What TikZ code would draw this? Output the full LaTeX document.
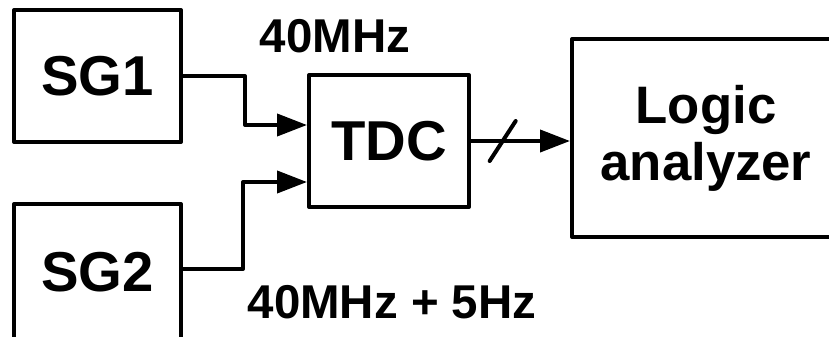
\documentclass[tikz,border=0pt]{standalone}
\usepackage{fontspec}
\setmainfont{Liberation Sans}
\usetikzlibrary{arrows.meta}
\begin{document}
\begin{tikzpicture}[line width=0.08cm, line join=round,
  block/.style={draw, inner sep=0pt, font=\bfseries\fontsize{32}{36}\selectfont},
  freq/.style={inner sep=0pt, font=\bfseries\fontsize{27}{30}\selectfont},
  sig/.style={-{Triangle[length=0.6cm,width=0.44cm]}}]
\useasboundingbox (0,0) rectangle (16.58,6.72);
% signal generators:
\node[block, minimum width=3.34cm, minimum height=2.64cm] (sg1) at (1.95,5.20) {SG1};
\node[block, minimum width=3.34cm, minimum height=2.72cm] (sg2) at (1.95,1.28) {SG2};
% converter and analyzer:
\node[block, minimum width=3.20cm, minimum height=2.64cm] (tdc) at (7.78,3.90) {TDC};
\node[block, minimum width=5.36cm, minimum height=3.96cm, align=center,
  font=\bfseries\fontsize{30}{32.5}\selectfont] (la) at (14.12,3.96) {Logic\\analyzer};
% frequencies:
\node[freq] (f1) at (6.70,5.99) {40MHz};
\node[freq] (f2) at (7.84,0.68) {40MHz + 5Hz};
% inputs:
\draw[sig] (sg1.east) -- ++(1.24,0) |- ([yshift=0.32cm]tdc.west);
\draw[sig] ([yshift=0.06cm]sg2.east) -- ++(1.20,0) |- ([yshift=-0.82cm]tdc.west);
% output bus:
\draw[sig] (tdc.east) -- coordinate[pos=0.32] (bus) (tdc.east -| la.west);
\draw[line cap=round] (bus) ++(-0.26,-0.4) -- ++(0.52,0.8);
\end{tikzpicture}
\end{document}
